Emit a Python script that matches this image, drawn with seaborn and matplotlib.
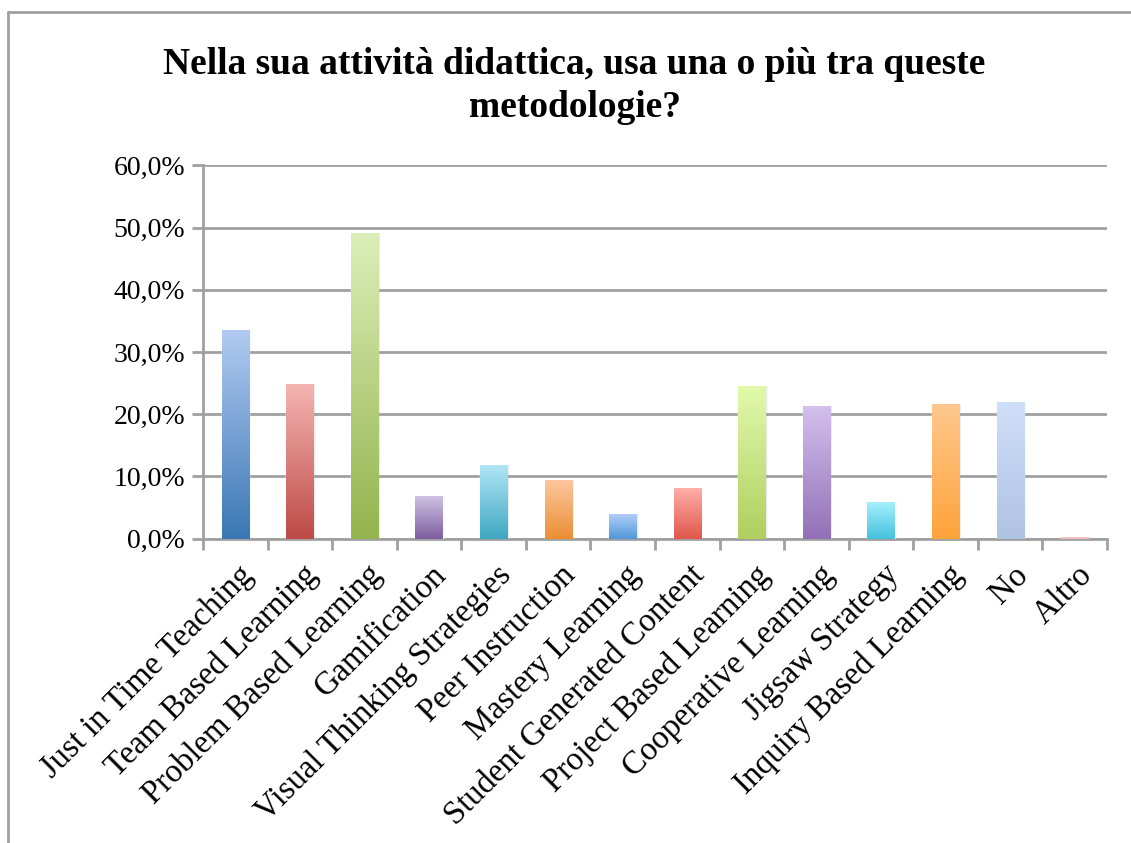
import numpy as np
import pandas as pd
import matplotlib
matplotlib.use("Agg")
import matplotlib.pyplot as plt
import seaborn as sns
from matplotlib.colors import LinearSegmentedColormap
from matplotlib.ticker import FuncFormatter, MultipleLocator
from matplotlib.lines import Line2D

categories = [
    "Just in Time Teaching", "Team Based Learning", "Problem Based Learning",
    "Gamification", "Visual Thinking Strategies", "Peer Instruction",
    "Mastery Learning", "Student Generated Content", "Project Based Learning",
    "Cooperative Learning", "Jigsaw Strategy", "Inquiry Based Learning",
    "No", "Altro",
]
values = [33.5, 24.8, 49.1, 6.8, 11.9, 9.4, 3.9, 8.1, 24.5, 21.3, 5.9, 21.6, 21.9, 0.2]

top_colors = ["#B2CBF2", "#F5B5B2", "#DCEEB8", "#CEC2E2", "#B0E5F6", "#FDC79E",
              "#B0CFF9", "#FFAEAA", "#E2F9AC", "#D3C0EE", "#A6EFFE", "#FEC88E",
              "#D0DFF9", "#F5CACA"]
bottom_colors = ["#3A77B4", "#BD4A47", "#94B44D", "#7C5E9F", "#3EA8C2", "#EB8E34",
                 "#5296D9", "#DF574B", "#AFCF5F", "#9370B7", "#45C2DD", "#FFA33A",
                 "#AFC3E3", "#F0B8B8"]
title = "Nella sua attività didattica, usa una o più tra queste\nmetodologie?"

sns.set_style("white")
plt.rcParams["font.family"] = ["Liberation Serif", "DejaVu Serif"]
plt.rcParams["text.color"] = "black"
plt.rcParams["xtick.labelcolor"] = "black"
plt.rcParams["ytick.labelcolor"] = "black"

fig = plt.figure(figsize=(11.31, 8.43), dpi=100)
ax = fig.add_axes([0.1795, 0.3612, 0.7993, 0.4425])

df = pd.DataFrame({"cat": categories, "val": values})
sns.barplot(data=df, x="cat", y="val", hue="cat", palette=bottom_colors,
            legend=False, width=0.42, ax=ax, saturation=1, zorder=3)

ax.set_ylim(0, 60)
ax.set_xlim(-0.5, len(categories) - 0.5)
grid_c = "#A0A0A0"

# gradients
for i, p in enumerate(ax.patches):
    x0, y0 = p.get_x(), p.get_y()
    w, h = p.get_width(), p.get_height()
    cmap = LinearSegmentedColormap.from_list("g", [bottom_colors[i], top_colors[i]])
    grad = np.linspace(0, 1, 256).reshape(-1, 1)
    im = ax.imshow(grad, cmap=cmap, origin="lower", aspect="auto",
                   extent=[x0, x0 + w, y0, y0 + h], zorder=4)
    im.set_clip_path(p)
    # soft shadow
    for k, a in enumerate([0.10, 0.06, 0.03]):
        d = 0.012 * (k + 1)
        ax.add_patch(plt.Rectangle((x0 + d, y0), w, h, facecolor="black",
                                   alpha=a, edgecolor="none", zorder=2))

ax.set_ylim(0, 60)
ax.set_xlim(-0.5, len(categories) - 0.5)
ax.yaxis.set_major_locator(MultipleLocator(10))
ax.yaxis.set_major_formatter(FuncFormatter(lambda v, _: f"{v:.1f}%".replace(".", ",")))
ax.grid(axis="y", color=grid_c, linewidth=2, zorder=0)
ax.set_axisbelow(True)
for s in ["top", "right"]:
    ax.spines[s].set_visible(False)
for s in ["left", "bottom"]:
    ax.spines[s].set_color(grid_c)
    ax.spines[s].set_linewidth(2)

ax.set_xlabel("")
ax.set_ylabel("")
ax.tick_params(axis="y", which="major", length=8, width=2, color=grid_c,
               labelsize=20, pad=5, left=True, direction="out", labelcolor="black")
ax.tick_params(axis="x", which="major", length=0, labelsize=23.5, pad=10,
               labelcolor="black")
ax.set_xticks(np.arange(-0.5, len(categories) - 0.5 + 0.01, 1), minor=True)
ax.tick_params(axis="x", which="minor", length=8, width=2, color=grid_c,
               bottom=True, direction="out")
ax.set_xticks(range(len(categories)))
ax.set_xticklabels(categories, rotation=45, ha="right", va="center",
                   rotation_mode="anchor")
for lab in ax.get_xticklabels():
    lab.set_transform(lab.get_transform() + matplotlib.transforms.ScaledTranslation(
        0.13, -0.18, fig.dpi_scale_trans))

fig.text(0.508, 0.898, title, ha="center", va="center", fontsize=27,
         fontweight="bold", linespacing=1.3, color="black")

# outer frame
fig.add_artist(Line2D([8 / 1131, 1.0], [1 - 11.5 / 843] * 2, color=grid_c,
                      linewidth=2, transform=fig.transFigure))
fig.add_artist(Line2D([8 / 1131] * 2, [0, 1 - 11.5 / 843], color=grid_c,
                      linewidth=2, transform=fig.transFigure))

fig.savefig("out.png", dpi=100, facecolor="white")
